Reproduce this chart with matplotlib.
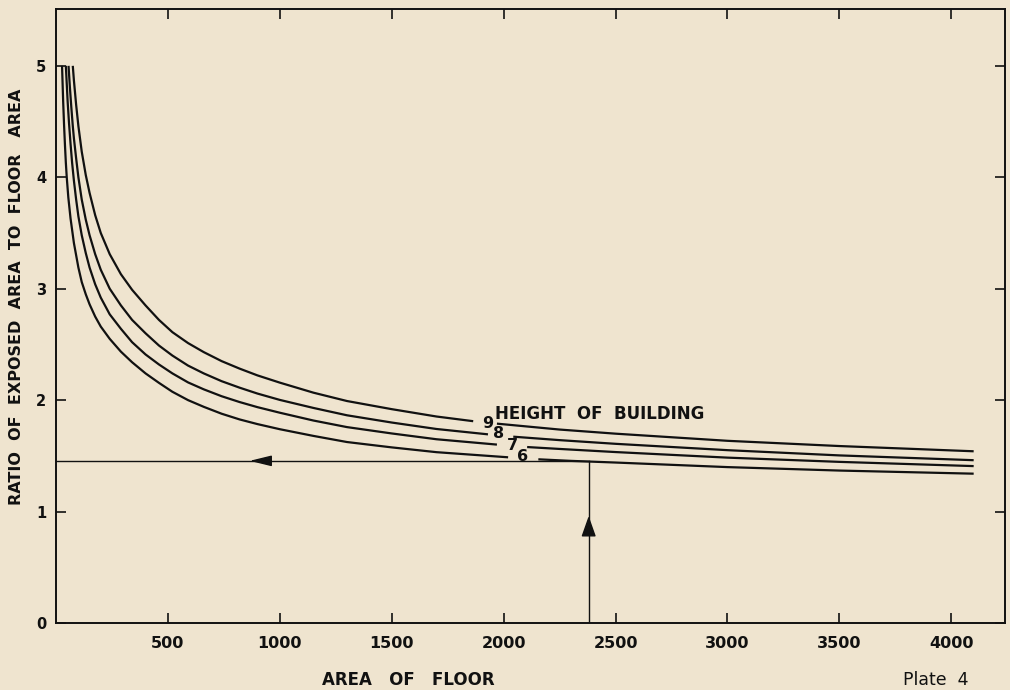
import numpy as np
import matplotlib
matplotlib.use("Agg")
import matplotlib.pyplot as plt

# ----------------------
# Data
# ----------------------

# floor area vs ratio for each building height (nan = break for the label)
area_9 = [75, 80, 90, 100, 115, 133, 150, 175, 200, 240, 290, 340, 400, 460, 520, 590, 660, 740, 820,
          900, 1000, 1150, 1300, 1500, 1700, 1864, np.nan, 1970, 2250, 2500, 3000, 3500, 4100]
ratio_9 = [5.00, 4.87, 4.65, 4.46, 4.23, 4.02, 3.86, 3.66, 3.50, 3.31, 3.13, 2.99, 2.85, 2.72, 2.61, 2.512, 2.431, 2.350, 2.283,
           2.222, 2.157, 2.067, 1.992, 1.919, 1.853, 1.811, np.nan, 1.789, 1.736, 1.699, 1.635, 1.588, 1.541]

area_8 = [56, 62, 68, 75, 80, 90, 100, 115, 133, 150, 175, 200, 240, 290, 340, 400, 460, 520, 590, 660,
          740, 820, 900, 1000, 1150, 1300, 1500, 1700, 1930, np.nan, 2043, 2250, 2500, 3000, 3500, 4100]
ratio_8 = [5.00, 4.81, 4.64, 4.46, 4.35, 4.17, 4.00, 3.80, 3.62, 3.48, 3.31, 3.17, 3.00, 2.85, 2.72, 2.60, 2.49, 2.40, 2.310, 2.240,
           2.170, 2.112, 2.059, 2.002, 1.930, 1.864, 1.799, 1.741, 1.693, np.nan, 1.672, 1.641, 1.608, 1.551, 1.504, 1.461]

area_7 = [44, 48, 52, 58, 65, 72, 80, 90, 100, 115, 133, 150, 175, 200, 240, 290, 340, 400, 460, 520, 590,
          660, 740, 820, 900, 1000, 1150, 1300, 1500, 1700, 1970, np.nan, 2105, 2250, 2500, 3000, 3500, 4100]
ratio_7 = [5.00, 4.84, 4.68, 4.49, 4.30, 4.13, 3.97, 3.80, 3.65, 3.48, 3.32, 3.19, 3.04, 2.92, 2.77, 2.64, 2.52, 2.41, 2.32, 2.24, 2.159,
           2.097, 2.035, 1.983, 1.937, 1.887, 1.817, 1.758, 1.701, 1.649, 1.601, np.nan, 1.579, 1.562, 1.534, 1.484, 1.446, 1.408]

area_6 = [27, 32, 36, 40, 44, 48, 55, 65, 80, 100, 115, 133, 150, 175, 200, 240, 290, 340, 400, 460, 520,
          590, 660, 740, 820, 900, 1000, 1150, 1300, 1500, 1700, 2020, np.nan, 2155, 2300, 2500, 3000, 3500, 4100]
ratio_6 = [5.00, 4.68, 4.47, 4.29, 4.13, 4.00, 3.82, 3.63, 3.41, 3.19, 3.06, 2.95, 2.86, 2.75, 2.66, 2.55, 2.435, 2.34, 2.24, 2.155, 2.075,
           2.00, 1.94, 1.878, 1.827, 1.785, 1.739, 1.679, 1.624, 1.576, 1.533, 1.487, np.nan, 1.469, 1.455, 1.440, 1.399, 1.368, 1.340]

curve_labels = ["9", "8", "7", "6"]
label_area = [1927, 1976, 2038, 2083]
label_ratio = [1.79, 1.70, 1.59, 1.49]

# worked example drawn on the plate
example_area = 2380
example_ratio = 1.455

x_ticks = [500, 1000, 1500, 2000, 2500, 3000, 3500, 4000]
x_tick_labels = ["500", "1000", "1500", "2000", "2500", "3000", "3500", "4000"]
y_ticks = [0, 1, 2, 3, 4, 5]

paper = "#efe4cf"
ink = "#111111"

fig = plt.figure(figsize=(10.1, 6.9), dpi=100, facecolor=paper)
ax = fig.add_axes([56 / 1010, 1 - 623 / 690, 949 / 1010, 614 / 690])
ax.set_facecolor(paper)

for xs, ys in [(area_9, ratio_9), (area_8, ratio_8), (area_7, ratio_7), (area_6, ratio_6)]:
    ax.plot(xs, ys, color=ink, lw=1.6, solid_capstyle="butt", solid_joinstyle="round")

for txt, xa, ya in zip(curve_labels, label_area, label_ratio):
    ax.text(xa, ya, txt, ha="center", va="center", fontsize=11.5, fontweight="bold", color=ink)

ax.text(1962, 1.88, "HEIGHT  OF  BUILDING", ha="left", va="center", fontsize=12,
        fontweight="bold", color=ink)

# reading lines with arrows
ax.plot([0, example_area], [example_ratio, example_ratio], color=ink, lw=1.0)
ax.plot([example_area, example_area], [0, example_ratio], color=ink, lw=1.0)
ax.annotate("", xy=(865, example_ratio), xytext=(945, example_ratio),
            arrowprops=dict(arrowstyle="-|>,head_length=0.9,head_width=0.22", color=ink,
                            lw=1.0, mutation_scale=15, shrinkA=0, shrinkB=0))
ax.annotate("", xy=(example_area, 0.96), xytext=(example_area, 0.81),
            arrowprops=dict(arrowstyle="-|>,head_length=0.85,head_width=0.3", color=ink,
                            lw=1.0, mutation_scale=15, shrinkA=0, shrinkB=0))

ax.set_xlim(0, 4240)
ax.set_ylim(0, 5.51)
ax.set_xticks(x_ticks)
ax.set_xticklabels(x_tick_labels, fontsize=11.5, fontweight="bold")
ax.set_yticks(y_ticks)
ax.set_yticklabels([str(v) for v in y_ticks], fontsize=10.5, fontweight="bold")
ax.tick_params(direction="in", length=7, width=1.2, colors=ink, top=True, right=True)
ax.tick_params(axis="x", pad=9)
ax.tick_params(axis="y", pad=7)
for s in ax.spines.values():
    s.set_linewidth(1.4)
    s.set_color(ink)

fig.text(17 / 1010, 1 - 297 / 690, "RATIO  OF  EXPOSED  AREA  TO  FLOOR   AREA", rotation=90,
         ha="center", va="center", fontsize=11.5, fontweight="bold", color=ink)
fig.text(408 / 1010, 1 - 680 / 690, "AREA   OF   FLOOR", ha="center", va="center",
         fontsize=12, fontweight="bold", color=ink)
fig.text(936 / 1010, 1 - 680 / 690, "Plate  4", ha="center", va="center",
         fontsize=12.5, color=ink)

fig.savefig("out.png", dpi=100, facecolor=paper)
